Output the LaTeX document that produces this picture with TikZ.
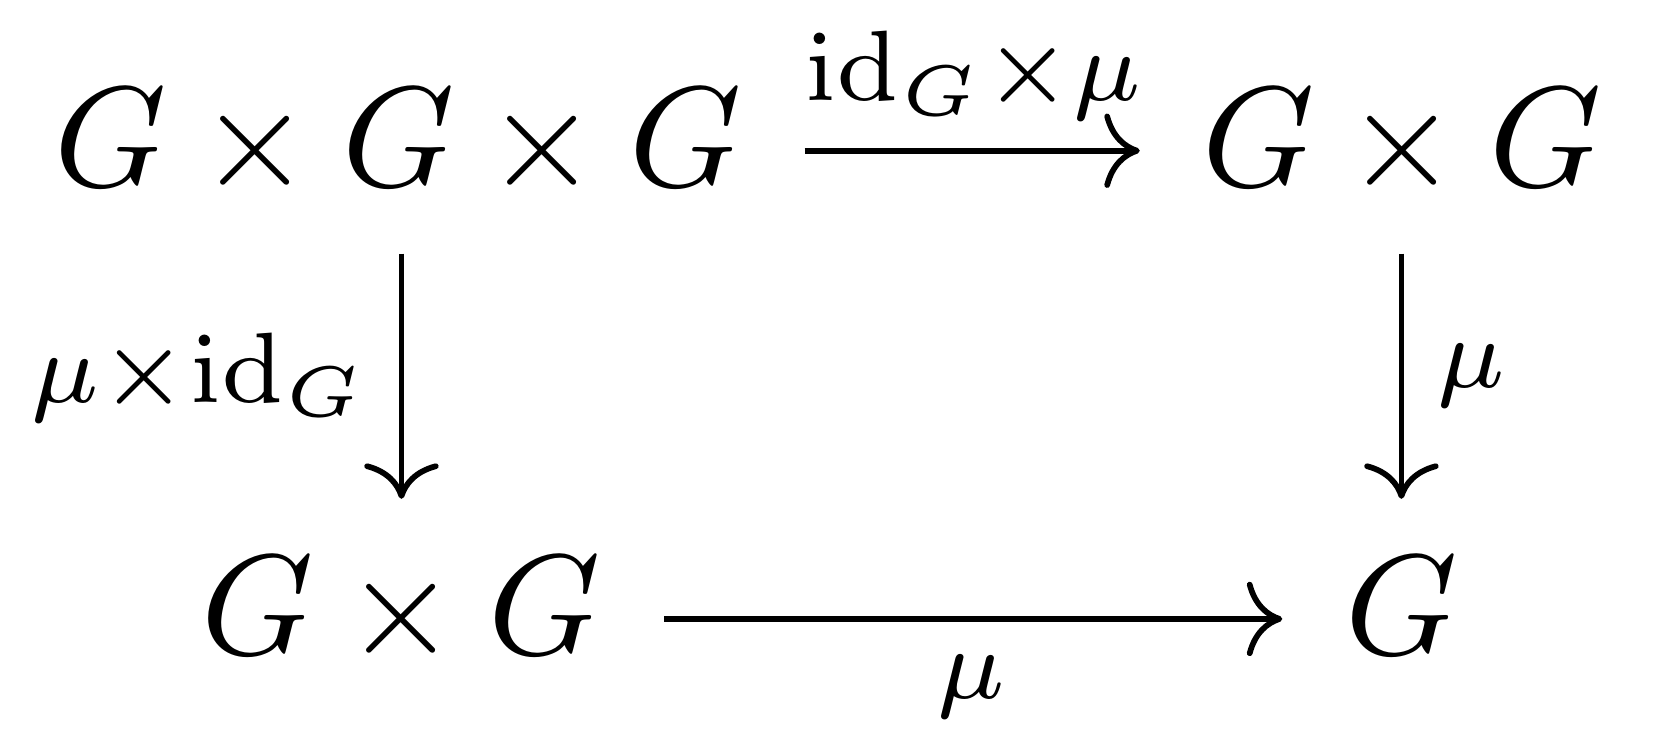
\documentclass[tikz,border=0pt]{standalone}
\usetikzlibrary{arrows.meta}
\begin{document}
\begin{tikzpicture}[x=0.074074pt, y=-0.074074pt,
  obj/.style={inner xsep=4.2pt, inner ysep=4.5pt, text height=6.2pt, text depth=0pt, anchor=base},
  arr/.style={line width=0.4pt, -{Computer Modern Rightarrow}},
  lab/.style={inner sep=0pt}]
\useasboundingbox (0,0) rectangle (1568,703.3);
\node[obj] (tl) at (376,176) {$G\times G\times G$};
\node[obj] (tr) at (1324,176) {$G\times G$};
\node[obj] (bl) at (379,618) {$G\times G$};
\node[obj] (br) at (1323,618) {$G$};
\draw[arr] ([yshift=2.5pt]tl.base east) -- ([yshift=2.5pt]tr.base west);
\draw[arr] ([yshift=2.5pt]bl.base east) -- ([yshift=2.5pt]br.base west);
\draw[arr] (tl.south -| bl.north) -- (bl.north);
\draw[arr] (tr.south -| br.north) -- (br.north);
\node[lab, anchor=base] (l1) at (919,95) {$\scriptstyle \mathrm{id}_G\times\mu$};
\node[lab, anchor=base east] (l2) at (350,380) {$\scriptstyle \mu\times\mathrm{id}_G$};
\node[lab, anchor=base west] (l3) at (1353,366) {$\scriptstyle \mu$};
\node[lab, anchor=base] (l4) at (917,659) {$\scriptstyle \mu$};
\end{tikzpicture}
\end{document}
